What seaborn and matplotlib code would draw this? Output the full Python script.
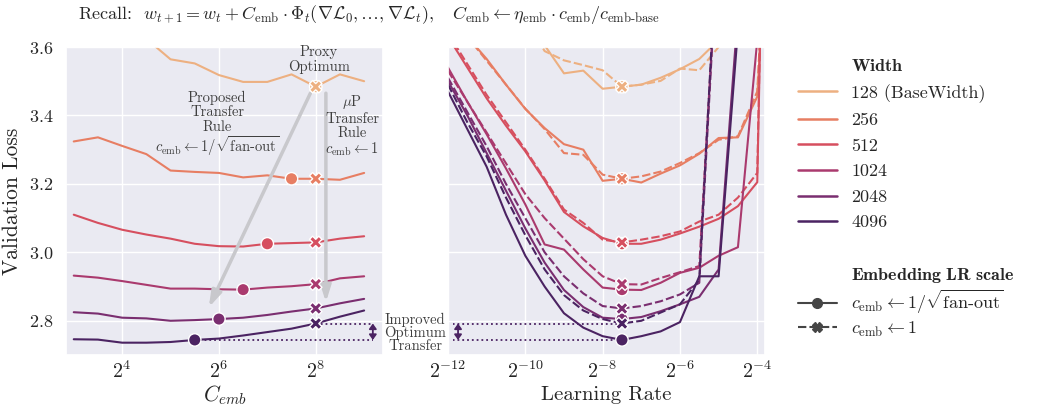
import numpy as np
import pandas as pd
import matplotlib
matplotlib.use("Agg")
import matplotlib.pyplot as plt
from matplotlib.lines import Line2D
from matplotlib.patches import Rectangle
import seaborn as sns

# ---------------- data ----------------
widths = [128, 256, 512, 1024, 2048, 4096]
width_labels = ["128 (BaseWidth)", "256", "512", "1024", "2048", "4096"]

# embedding multiplier sweep (log2 of C_emb)
cemb_exp = [3, 3.5, 4, 4.5, 5, 5.5, 6, 6.5, 7, 7.5, 8, 8.5, 9]
cemb_loss_128 = [3.80, 3.75, 3.70, 3.624, 3.564, 3.552, 3.518, 3.498, 3.498, 3.520, 3.484, 3.520, 3.500]
cemb_loss_256 = [3.324, 3.336, 3.311, 3.287, 3.239, 3.235, 3.232, 3.219, 3.225, 3.215, 3.215, 3.212, 3.232]
cemb_loss_512 = [3.110, 3.086, 3.066, 3.052, 3.040, 3.025, 3.018, 3.017, 3.025, 3.027, 3.029, 3.040, 3.047]
cemb_loss_1024 = [2.932, 2.926, 2.916, 2.905, 2.894, 2.894, 2.892, 2.891, 2.897, 2.901, 2.907, 2.924, 2.930]
cemb_loss_2048 = [2.825, 2.821, 2.809, 2.807, 2.800, 2.802, 2.805, 2.809, 2.817, 2.827, 2.836, 2.851, 2.864]
cemb_loss_4096 = [2.746, 2.745, 2.736, 2.736, 2.738, 2.744, 2.748, 2.757, 2.767, 2.777, 2.792, 2.812, 2.830]

# C_emb chosen by each transfer rule (log2)
cemb_fanout_exp = [8, 7.5, 7, 6.5, 6, 5.5]
cemb_mup_exp = [8, 8, 8, 8, 8, 8]

# learning-rate sweep (log2 of LR)
lr_exp = [-12, -11.5, -11, -10.5, -10, -9.5, -9, -8.5, -8, -7.5, -7, -6.5, -6, -5.5, -5, -4.5, -4, -3.5]
lr_loss_fanout_128 = [4.25, 4.10, 3.96, 3.83, 3.71, 3.605, 3.523, 3.531, 3.478, 3.484, 3.490, 3.510, 3.535, 3.565, 3.620, 3.80, 4.10, 4.60]
lr_loss_mup_128 = [4.20, 4.05, 3.92, 3.79, 3.68, 3.588, 3.561, 3.547, 3.532, 3.484, 3.490, 3.501, 3.537, 3.532, 3.600, 3.85, 4.20, 4.70]
lr_loss_fanout_256 = [3.72, 3.63, 3.565, 3.49, 3.419, 3.363, 3.316, 3.300, 3.209, 3.215, 3.204, 3.230, 3.254, 3.288, 3.334, 3.336, 3.455, 4.50]
lr_loss_mup_256 = [3.72, 3.63, 3.56, 3.49, 3.42, 3.36, 3.290, 3.285, 3.227, 3.215, 3.222, 3.236, 3.261, 3.290, 3.329, 3.339, 3.470, 4.60]
lr_loss_fanout_512 = [3.63, 3.54, 3.45, 3.37, 3.295, 3.21, 3.118, 3.076, 3.042, 3.025, 3.025, 3.037, 3.055, 3.075, 3.098, 3.135, 3.205, 6.0]
lr_loss_mup_512 = [3.64, 3.55, 3.46, 3.38, 3.30, 3.215, 3.125, 3.086, 3.037, 3.029, 3.037, 3.047, 3.061, 3.090, 3.110, 3.160, 3.232, 6.0]
lr_loss_fanout_1024 = [3.54, 3.44, 3.345, 3.245, 3.14, 3.023, 3.008, 2.950, 2.897, 2.891, 2.890, 2.911, 2.940, 2.955, 2.990, 3.015, 3.62, 6.0]
lr_loss_mup_1024 = [3.53, 3.44, 3.35, 3.26, 3.17, 3.10, 3.04, 2.98, 2.93, 2.907, 2.906, 2.925, 2.942, 2.960, 3.95, 5.0, 6.0, 6.0]
lr_loss_fanout_2048 = [3.50, 3.40, 3.29, 3.18, 3.07, 2.97, 2.89, 2.84, 2.809, 2.805, 2.811, 2.828, 2.848, 2.870, 2.950, 3.70, 5.0, 6.0]
lr_loss_mup_2048 = [3.51, 3.41, 3.31, 3.20, 3.10, 3.00, 2.93, 2.88, 2.843, 2.836, 2.843, 2.857, 2.877, 2.911, 3.95, 5.0, 6.0, 6.0]
lr_loss_fanout_4096 = [3.47, 3.36, 3.25, 3.11, 2.99, 2.90, 2.822, 2.78, 2.755, 2.744, 2.755, 2.769, 2.796, 2.930, 2.930, 3.65, 5.0, 6.0]
lr_loss_mup_4096 = [3.49, 3.38, 3.28, 3.16, 3.05, 2.95, 2.875, 2.83, 2.805, 2.792, 2.800, 2.824, 2.848, 2.920, 4.0, 5.0, 6.0, 6.0]

best_lr_exp = -7.5

# ---------------- style ----------------
sns.set_theme(style="darkgrid")
plt.rcParams.update({
    "font.family": "serif",
    "font.serif": ["cmr10"],
    "mathtext.fontset": "cm",
    "axes.formatter.use_mathtext": True,
    "axes.unicode_minus": False,
    "font.size": 12,
})

cmap = sns.color_palette("flare", as_cmap=True)
colors = [cmap(v) for v in np.linspace(0.0, 1.0, 6)]
palette = dict(zip(widths, colors))
dark = colors[-1]
txt_color = "0.25"

# ---------------- tables ----------------
cemb_series = [cemb_loss_128, cemb_loss_256, cemb_loss_512,
               cemb_loss_1024, cemb_loss_2048, cemb_loss_4096]
df_c = pd.concat([
    pd.DataFrame({"c_emb": np.exp2(cemb_exp), "loss": vals, "width": w})
    for w, vals in zip(widths, cemb_series)
], ignore_index=True)

opt_rows = []
for w, vals, ef, em in zip(widths, cemb_series, cemb_fanout_exp, cemb_mup_exp):
    opt_rows.append({"c_emb": 2.0 ** ef, "loss": vals[cemb_exp.index(ef)], "width": w, "rule": "fanout"})
    opt_rows.append({"c_emb": 2.0 ** em, "loss": vals[cemb_exp.index(em)], "width": w, "rule": "mup"})
df_c_opt = pd.DataFrame(opt_rows)

lr_fanout = [lr_loss_fanout_128, lr_loss_fanout_256, lr_loss_fanout_512,
             lr_loss_fanout_1024, lr_loss_fanout_2048, lr_loss_fanout_4096]
lr_mup = [lr_loss_mup_128, lr_loss_mup_256, lr_loss_mup_512,
          lr_loss_mup_1024, lr_loss_mup_2048, lr_loss_mup_4096]
frames = []
for w, vf, vm in zip(widths, lr_fanout, lr_mup):
    frames.append(pd.DataFrame({"lr": np.exp2(lr_exp), "loss": vf, "width": w, "rule": "fanout"}))
    frames.append(pd.DataFrame({"lr": np.exp2(lr_exp), "loss": vm, "width": w, "rule": "mup"}))
df_lr = pd.concat(frames, ignore_index=True)
df_lr_opt = df_lr[np.isclose(df_lr["lr"], 2.0 ** best_lr_exp)]

# ---------------- figure ----------------
fig = plt.figure(figsize=(10.38, 4.07), dpi=100)
ax1 = fig.add_axes([66 / 1038, 1 - 355 / 407, 317 / 1038, 308 / 407])
ax2 = fig.add_axes([448 / 1038, 1 - 355 / 407, 317 / 1038, 308 / 407], sharey=ax1)

markers = {"fanout": "o", "mup": "X"}

# left: loss vs C_emb
sns.lineplot(data=df_c, x="c_emb", y="loss", hue="width", palette=palette,
             lw=1.5, legend=False, ax=ax1)
sns.scatterplot(data=df_c_opt, x="c_emb", y="loss", hue="width", style="rule",
                markers=markers, palette=palette, s=80, edgecolor="white",
                linewidth=1.0, zorder=5, legend=False, ax=ax1)

# right: loss vs learning rate
sns.lineplot(data=df_lr, x="lr", y="loss", hue="width", style="rule",
             dashes={"fanout": "", "mup": (4, 1.5)}, palette=palette,
             lw=1.5, legend=False, ax=ax2)
sns.scatterplot(data=df_lr_opt, x="lr", y="loss", hue="width", style="rule",
                markers=markers, palette=palette, s=80, edgecolor="white",
                linewidth=1.0, zorder=5, legend=False, ax=ax2)

for ax in (ax1, ax2):
    ax.set_xscale("log", base=2)
    ax.tick_params(axis="y", length=0, pad=9, labelsize=13)
    ax.tick_params(axis="x", length=0, pad=4, labelsize=14.5)

ax1.set_ylim(2.7, 3.6)
ax1.set_yticks([2.8, 3.0, 3.2, 3.4, 3.6])
ax1.set_xlim(2 ** 2.84, 2 ** 9.39)
ax1.set_xticks([2 ** 4, 2 ** 6, 2 ** 8])
ax2.set_xlim(2 ** -12, 2 ** -3.8)
ax2.set_xticks([2 ** -12, 2 ** -10, 2 ** -8, 2 ** -6, 2 ** -4])
ax2.tick_params(axis="y", labelleft=False)

ax1.set_xlabel(r"$C_{emb}$", fontsize=15.5, labelpad=1)
ax1.set_ylabel("Validation Loss", fontsize=15.5, labelpad=5)
ax2.set_xlabel("Learning Rate", fontsize=15, labelpad=3)
ax2.set_ylabel("")

# transfer-rule annotations on the C_emb panel
arrow_gray = "#c8c8cc"
ax1.annotate("", xy=(2 ** 5.79, 2.839), xytext=(2 ** 7.89, 3.465),
             arrowprops=dict(arrowstyle="-|>,head_length=0.8,head_width=0.25",
                             color=arrow_gray, lw=2.5, shrinkA=0, shrinkB=0), zorder=2)
ax1.annotate("", xy=(2 ** 8.21, 2.854), xytext=(2 ** 8.21, 3.465),
             arrowprops=dict(arrowstyle="-|>,head_length=0.8,head_width=0.25",
                             color=arrow_gray, lw=2.5, shrinkA=0, shrinkB=0), zorder=2)
ax1.text(2 ** 8.06, 3.563, "Proxy\nOptimum", ha="center", va="center",
         fontsize=10.5, color=txt_color, linespacing=1.05)
ax1.text(2 ** 5.96, 3.373,
         "Proposed\nTransfer\nRule\n" + r"$c_{\mathrm{emb}} \leftarrow 1/\sqrt{\text{fan-out}}$",
         ha="center", va="center", fontsize=10.5, color=txt_color, linespacing=1.05)
ax1.text(2 ** 8.75, 3.370, r"$\mu$P" + "\nTransfer\nRule\n" + r"$c_{\mathrm{emb}} \leftarrow 1$",
         ha="center", va="center", fontsize=10.5, color=txt_color, linespacing=1.05)

# improved optimum transfer guides
y_fan = cemb_loss_4096[cemb_exp.index(cemb_fanout_exp[-1])]
y_mup = cemb_loss_4096[cemb_exp.index(cemb_mup_exp[-1])]
x_arrow_l = 2 ** 9.18
ax1.plot([2.0 ** cemb_mup_exp[-1], x_arrow_l], [y_mup, y_mup], ls=":", color=dark, lw=1.3, zorder=3)
ax1.plot([2.0 ** cemb_fanout_exp[-1], x_arrow_l], [y_fan, y_fan], ls=":", color=dark, lw=1.3, zorder=3)
double_arrow = dict(arrowstyle="<|-|>,head_length=0.25,head_width=0.18",
                    color=dark, lw=1.3, shrinkA=0, shrinkB=0)
ax1.annotate("", xy=(x_arrow_l, y_fan), xytext=(x_arrow_l, y_mup), arrowprops=double_arrow)

i_best = lr_exp.index(best_lr_exp)
yr_fan = lr_loss_fanout_4096[i_best]
yr_mup = lr_loss_mup_4096[i_best]
x_arrow_r = 2 ** -11.74
ax2.plot([2.0 ** best_lr_exp, 2 ** -11.87], [yr_mup, yr_mup], ls=":", color=dark, lw=1.3, zorder=3)
ax2.plot([2.0 ** best_lr_exp, 2 ** -11.87], [yr_fan, yr_fan], ls=":", color=dark, lw=1.3, zorder=3)
ax2.annotate("", xy=(x_arrow_r, yr_fan), xytext=(x_arrow_r, yr_mup), arrowprops=double_arrow)
fig.text(415 / 1038, 1 - 333 / 407, "Improved\nOptimum\nTransfer", ha="center", va="center",
         fontsize=10.5, color=txt_color, linespacing=0.95)

# title
fig.text(369 / 1038, 1 - 14 / 407,
         r"Recall:  $w_{t+1} = w_t + C_{\mathrm{emb}} \cdot \Phi_t(\nabla\mathcal{L}_0, \ldots, \nabla\mathcal{L}_t),\quad C_{\mathrm{emb}} \leftarrow \eta_{\mathrm{emb}} \cdot c_{\mathrm{emb}}/c_{\text{emb-base}}$",
         ha="center", va="center", fontsize=13, color="0.15")

# legend: width section
blank = Rectangle((0, 0), 1, 1, alpha=0)
handles = [blank]
labels = [r"$\mathbf{Width}$"]
for c, lab in zip(colors, width_labels):
    handles.append(Line2D([], [], color=c, lw=1.8))
    labels.append(lab)
handles += [blank, blank]
labels += ["", r"$\mathbf{Embedding\ LR\ scale}$"]
fig.legend(handles, labels, loc="upper left", bbox_to_anchor=(798 / 1038, 1 - 58 / 407),
           frameon=False, fontsize=13, handlelength=2.15, handletextpad=0.8,
           labelspacing=0.55, borderaxespad=0, borderpad=0)

# legend: embedding LR scale section
style_handles = [Line2D([], [], color="0.27", lw=1.5, marker="o", markersize=7),
                 Line2D([], [], color="0.27", lw=1.5, ls=(0, (4, 1.5)), marker="X", markersize=7)]
style_labels = [r"$c_{\mathrm{emb}} \leftarrow 1/\sqrt{\text{fan-out}}$",
                r"$c_{\mathrm{emb}} \leftarrow 1$"]
fig.legend(style_handles, style_labels, loc="upper left", bbox_to_anchor=(798 / 1038, 1 - 288 / 407),
           frameon=False, fontsize=13, handlelength=2.15, handletextpad=0.8,
           labelspacing=0.2, borderaxespad=0, borderpad=0)

fig.savefig("out.png", dpi=100)
